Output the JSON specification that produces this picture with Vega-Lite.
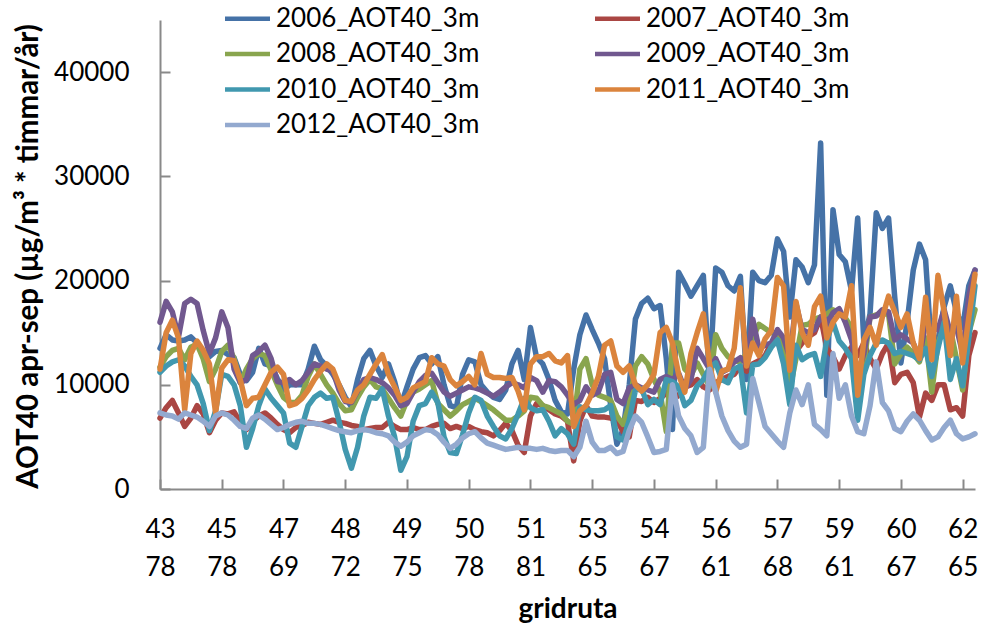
{
"$schema":"https://vega.github.io/schema/vega-lite/v6.json",
"width":815,"height":469,"autosize":"none",
"padding":{"left":160,"top":20,"right":7,"bottom":136},
"background":"white",
"config":{"view":{"stroke":null},"font":"Lato"},
"data":{"values":[
{"i":0,"2006_AOT40_3m":13500,"2007_AOT40_3m":6800,"2008_AOT40_3m":11700,"2009_AOT40_3m":16000,"2010_AOT40_3m":11200,"2011_AOT40_3m":11500,"2012_AOT40_3m":7300},
{"i":2,"2006_AOT40_3m":14800,"2007_AOT40_3m":7800,"2008_AOT40_3m":12700,"2009_AOT40_3m":18000,"2010_AOT40_3m":11800,"2011_AOT40_3m":15000,"2012_AOT40_3m":7100},
{"i":4,"2006_AOT40_3m":14300,"2007_AOT40_3m":8500,"2008_AOT40_3m":13300,"2009_AOT40_3m":17000,"2010_AOT40_3m":12200,"2011_AOT40_3m":16200,"2012_AOT40_3m":7000},
{"i":6,"2006_AOT40_3m":14200,"2007_AOT40_3m":7300,"2008_AOT40_3m":13500,"2009_AOT40_3m":14600,"2010_AOT40_3m":12400,"2011_AOT40_3m":14500,"2012_AOT40_3m":6700},
{"i":8,"2006_AOT40_3m":14300,"2007_AOT40_3m":6000,"2008_AOT40_3m":12400,"2009_AOT40_3m":17800,"2010_AOT40_3m":11800,"2011_AOT40_3m":7600,"2012_AOT40_3m":7300},
{"i":10,"2006_AOT40_3m":14600,"2007_AOT40_3m":6800,"2008_AOT40_3m":13600,"2009_AOT40_3m":18200,"2010_AOT40_3m":10800,"2011_AOT40_3m":13000,"2012_AOT40_3m":7100},
{"i":12,"2006_AOT40_3m":14000,"2007_AOT40_3m":8000,"2008_AOT40_3m":13900,"2009_AOT40_3m":17800,"2010_AOT40_3m":10000,"2011_AOT40_3m":14200,"2012_AOT40_3m":6900},
{"i":14,"2006_AOT40_3m":13000,"2007_AOT40_3m":7200,"2008_AOT40_3m":12500,"2009_AOT40_3m":15200,"2010_AOT40_3m":8200,"2011_AOT40_3m":13300,"2012_AOT40_3m":6500},
{"i":16,"2006_AOT40_3m":12700,"2007_AOT40_3m":5400,"2008_AOT40_3m":10300,"2009_AOT40_3m":13000,"2010_AOT40_3m":5600,"2011_AOT40_3m":12000,"2012_AOT40_3m":6000},
{"i":18,"2006_AOT40_3m":13200,"2007_AOT40_3m":6600,"2008_AOT40_3m":11500,"2009_AOT40_3m":14500,"2010_AOT40_3m":7500,"2011_AOT40_3m":7300,"2012_AOT40_3m":7000},
{"i":20,"2006_AOT40_3m":13300,"2007_AOT40_3m":7300,"2008_AOT40_3m":13200,"2009_AOT40_3m":17000,"2010_AOT40_3m":11000,"2011_AOT40_3m":11600,"2012_AOT40_3m":7300},
{"i":22,"2006_AOT40_3m":12900,"2007_AOT40_3m":7200,"2008_AOT40_3m":13800,"2009_AOT40_3m":15500,"2010_AOT40_3m":10800,"2011_AOT40_3m":12400,"2012_AOT40_3m":7100},
{"i":24,"2006_AOT40_3m":12600,"2007_AOT40_3m":7400,"2008_AOT40_3m":12500,"2009_AOT40_3m":11500,"2010_AOT40_3m":10000,"2011_AOT40_3m":12300,"2012_AOT40_3m":6600},
{"i":26,"2006_AOT40_3m":11000,"2007_AOT40_3m":6400,"2008_AOT40_3m":10200,"2009_AOT40_3m":10200,"2010_AOT40_3m":8000,"2011_AOT40_3m":10500,"2012_AOT40_3m":6000},
{"i":28,"2006_AOT40_3m":10400,"2007_AOT40_3m":5700,"2008_AOT40_3m":11500,"2009_AOT40_3m":10500,"2010_AOT40_3m":4000,"2011_AOT40_3m":8000,"2012_AOT40_3m":5800},
{"i":30,"2006_AOT40_3m":11200,"2007_AOT40_3m":6500,"2008_AOT40_3m":12500,"2009_AOT40_3m":12800,"2010_AOT40_3m":5800,"2011_AOT40_3m":8700,"2012_AOT40_3m":6800},
{"i":32,"2006_AOT40_3m":13500,"2007_AOT40_3m":7000,"2008_AOT40_3m":13000,"2009_AOT40_3m":13200,"2010_AOT40_3m":8000,"2011_AOT40_3m":8800,"2012_AOT40_3m":7100},
{"i":34,"2006_AOT40_3m":12000,"2007_AOT40_3m":7300,"2008_AOT40_3m":12800,"2009_AOT40_3m":13800,"2010_AOT40_3m":9600,"2011_AOT40_3m":10000,"2012_AOT40_3m":6700},
{"i":36,"2006_AOT40_3m":11800,"2007_AOT40_3m":6800,"2008_AOT40_3m":11400,"2009_AOT40_3m":12500,"2010_AOT40_3m":8700,"2011_AOT40_3m":11200,"2012_AOT40_3m":6200},
{"i":38,"2006_AOT40_3m":10600,"2007_AOT40_3m":6200,"2008_AOT40_3m":10000,"2009_AOT40_3m":10300,"2010_AOT40_3m":8000,"2011_AOT40_3m":11700,"2012_AOT40_3m":5700},
{"i":40,"2006_AOT40_3m":9500,"2007_AOT40_3m":5700,"2008_AOT40_3m":8800,"2009_AOT40_3m":10200,"2010_AOT40_3m":7300,"2011_AOT40_3m":11000,"2012_AOT40_3m":5900},
{"i":42,"2006_AOT40_3m":10000,"2007_AOT40_3m":5400,"2008_AOT40_3m":8300,"2009_AOT40_3m":10500,"2010_AOT40_3m":4400,"2011_AOT40_3m":8000,"2012_AOT40_3m":6200},
{"i":44,"2006_AOT40_3m":10000,"2007_AOT40_3m":5900,"2008_AOT40_3m":8300,"2009_AOT40_3m":10000,"2010_AOT40_3m":4000,"2011_AOT40_3m":8200,"2012_AOT40_3m":6400},
{"i":46,"2006_AOT40_3m":10000,"2007_AOT40_3m":6100,"2008_AOT40_3m":9000,"2009_AOT40_3m":10400,"2010_AOT40_3m":6000,"2011_AOT40_3m":8700,"2012_AOT40_3m":6500},
{"i":48,"2006_AOT40_3m":11500,"2007_AOT40_3m":6400,"2008_AOT40_3m":10800,"2009_AOT40_3m":11200,"2010_AOT40_3m":8000,"2011_AOT40_3m":9500,"2012_AOT40_3m":6300},
{"i":50,"2006_AOT40_3m":13700,"2007_AOT40_3m":6300,"2008_AOT40_3m":12000,"2009_AOT40_3m":12000,"2010_AOT40_3m":8800,"2011_AOT40_3m":10500,"2012_AOT40_3m":6300},
{"i":52,"2006_AOT40_3m":12400,"2007_AOT40_3m":6200,"2008_AOT40_3m":11000,"2009_AOT40_3m":11800,"2010_AOT40_3m":9200,"2011_AOT40_3m":11300,"2012_AOT40_3m":6200},
{"i":54,"2006_AOT40_3m":11800,"2007_AOT40_3m":6400,"2008_AOT40_3m":10000,"2009_AOT40_3m":11500,"2010_AOT40_3m":8700,"2011_AOT40_3m":12000,"2012_AOT40_3m":6000},
{"i":56,"2006_AOT40_3m":11000,"2007_AOT40_3m":6600,"2008_AOT40_3m":9200,"2009_AOT40_3m":11300,"2010_AOT40_3m":8800,"2011_AOT40_3m":11500,"2012_AOT40_3m":5800},
{"i":58,"2006_AOT40_3m":10000,"2007_AOT40_3m":6400,"2008_AOT40_3m":8200,"2009_AOT40_3m":9500,"2010_AOT40_3m":6500,"2011_AOT40_3m":10000,"2012_AOT40_3m":5600},
{"i":60,"2006_AOT40_3m":8800,"2007_AOT40_3m":6300,"2008_AOT40_3m":7500,"2009_AOT40_3m":8400,"2010_AOT40_3m":3800,"2011_AOT40_3m":8500,"2012_AOT40_3m":5500},
{"i":62,"2006_AOT40_3m":7900,"2007_AOT40_3m":6100,"2008_AOT40_3m":7600,"2009_AOT40_3m":8300,"2010_AOT40_3m":2000,"2011_AOT40_3m":8400,"2012_AOT40_3m":5400},
{"i":64,"2006_AOT40_3m":10500,"2007_AOT40_3m":6000,"2008_AOT40_3m":8800,"2009_AOT40_3m":9400,"2010_AOT40_3m":4000,"2011_AOT40_3m":9500,"2012_AOT40_3m":5600},
{"i":66,"2006_AOT40_3m":12500,"2007_AOT40_3m":5700,"2008_AOT40_3m":9800,"2009_AOT40_3m":10500,"2010_AOT40_3m":7000,"2011_AOT40_3m":10000,"2012_AOT40_3m":5700},
{"i":68,"2006_AOT40_3m":13300,"2007_AOT40_3m":5800,"2008_AOT40_3m":10500,"2009_AOT40_3m":10700,"2010_AOT40_3m":8800,"2011_AOT40_3m":11000,"2012_AOT40_3m":5600},
{"i":70,"2006_AOT40_3m":11800,"2007_AOT40_3m":5900,"2008_AOT40_3m":9800,"2009_AOT40_3m":10500,"2010_AOT40_3m":8700,"2011_AOT40_3m":12000,"2012_AOT40_3m":5400},
{"i":72,"2006_AOT40_3m":10700,"2007_AOT40_3m":5900,"2008_AOT40_3m":9600,"2009_AOT40_3m":10200,"2010_AOT40_3m":9600,"2011_AOT40_3m":12900,"2012_AOT40_3m":5300},
{"i":74,"2006_AOT40_3m":12000,"2007_AOT40_3m":6400,"2008_AOT40_3m":8700,"2009_AOT40_3m":9700,"2010_AOT40_3m":7000,"2011_AOT40_3m":11000,"2012_AOT40_3m":5100},
{"i":76,"2006_AOT40_3m":10300,"2007_AOT40_3m":6000,"2008_AOT40_3m":7800,"2009_AOT40_3m":9000,"2010_AOT40_3m":5000,"2011_AOT40_3m":9800,"2012_AOT40_3m":4500},
{"i":78,"2006_AOT40_3m":8000,"2007_AOT40_3m":5700,"2008_AOT40_3m":7000,"2009_AOT40_3m":8000,"2010_AOT40_3m":1800,"2011_AOT40_3m":8500,"2012_AOT40_3m":4100},
{"i":80,"2006_AOT40_3m":9800,"2007_AOT40_3m":5700,"2008_AOT40_3m":8500,"2009_AOT40_3m":8200,"2010_AOT40_3m":3100,"2011_AOT40_3m":8800,"2012_AOT40_3m":4500},
{"i":82,"2006_AOT40_3m":11500,"2007_AOT40_3m":5900,"2008_AOT40_3m":9300,"2009_AOT40_3m":9300,"2010_AOT40_3m":6500,"2011_AOT40_3m":9700,"2012_AOT40_3m":5100},
{"i":84,"2006_AOT40_3m":12600,"2007_AOT40_3m":5700,"2008_AOT40_3m":9600,"2009_AOT40_3m":10300,"2010_AOT40_3m":8000,"2011_AOT40_3m":10000,"2012_AOT40_3m":5400},
{"i":86,"2006_AOT40_3m":12800,"2007_AOT40_3m":5700,"2008_AOT40_3m":10000,"2009_AOT40_3m":10900,"2010_AOT40_3m":8200,"2011_AOT40_3m":10300,"2012_AOT40_3m":5700},
{"i":88,"2006_AOT40_3m":12000,"2007_AOT40_3m":6000,"2008_AOT40_3m":10400,"2009_AOT40_3m":11100,"2010_AOT40_3m":9300,"2011_AOT40_3m":12600,"2012_AOT40_3m":5600},
{"i":90,"2006_AOT40_3m":12700,"2007_AOT40_3m":6200,"2008_AOT40_3m":8200,"2009_AOT40_3m":10200,"2010_AOT40_3m":8300,"2011_AOT40_3m":12000,"2012_AOT40_3m":5200},
{"i":92,"2006_AOT40_3m":10000,"2007_AOT40_3m":6300,"2008_AOT40_3m":7600,"2009_AOT40_3m":9300,"2010_AOT40_3m":5000,"2011_AOT40_3m":11800,"2012_AOT40_3m":4500},
{"i":94,"2006_AOT40_3m":8000,"2007_AOT40_3m":5800,"2008_AOT40_3m":7000,"2009_AOT40_3m":8900,"2010_AOT40_3m":3500,"2011_AOT40_3m":10500,"2012_AOT40_3m":3900},
{"i":96,"2006_AOT40_3m":7800,"2007_AOT40_3m":6000,"2008_AOT40_3m":7500,"2009_AOT40_3m":9200,"2010_AOT40_3m":3400,"2011_AOT40_3m":9900,"2012_AOT40_3m":4300},
{"i":98,"2006_AOT40_3m":11000,"2007_AOT40_3m":5800,"2008_AOT40_3m":8100,"2009_AOT40_3m":9500,"2010_AOT40_3m":5200,"2011_AOT40_3m":10300,"2012_AOT40_3m":4900},
{"i":100,"2006_AOT40_3m":12400,"2007_AOT40_3m":6000,"2008_AOT40_3m":8400,"2009_AOT40_3m":9800,"2010_AOT40_3m":7300,"2011_AOT40_3m":10800,"2012_AOT40_3m":5300},
{"i":102,"2006_AOT40_3m":12200,"2007_AOT40_3m":5700,"2008_AOT40_3m":8700,"2009_AOT40_3m":9700,"2010_AOT40_3m":8800,"2011_AOT40_3m":10000,"2012_AOT40_3m":5500},
{"i":104,"2006_AOT40_3m":10000,"2007_AOT40_3m":5500,"2008_AOT40_3m":8400,"2009_AOT40_3m":9500,"2010_AOT40_3m":8500,"2011_AOT40_3m":13000,"2012_AOT40_3m":4900},
{"i":106,"2006_AOT40_3m":9300,"2007_AOT40_3m":5400,"2008_AOT40_3m":8000,"2009_AOT40_3m":9200,"2010_AOT40_3m":7000,"2011_AOT40_3m":11000,"2012_AOT40_3m":4400},
{"i":108,"2006_AOT40_3m":8800,"2007_AOT40_3m":5100,"2008_AOT40_3m":7600,"2009_AOT40_3m":8900,"2010_AOT40_3m":6000,"2011_AOT40_3m":10700,"2012_AOT40_3m":4200},
{"i":110,"2006_AOT40_3m":8600,"2007_AOT40_3m":5600,"2008_AOT40_3m":7100,"2009_AOT40_3m":9300,"2010_AOT40_3m":5100,"2011_AOT40_3m":10700,"2012_AOT40_3m":4000},
{"i":112,"2006_AOT40_3m":9500,"2007_AOT40_3m":6300,"2008_AOT40_3m":6600,"2009_AOT40_3m":9800,"2010_AOT40_3m":4800,"2011_AOT40_3m":10600,"2012_AOT40_3m":3800},
{"i":114,"2006_AOT40_3m":12000,"2007_AOT40_3m":5600,"2008_AOT40_3m":6600,"2009_AOT40_3m":10200,"2010_AOT40_3m":5800,"2011_AOT40_3m":10700,"2012_AOT40_3m":3900},
{"i":116,"2006_AOT40_3m":13300,"2007_AOT40_3m":4200,"2008_AOT40_3m":7000,"2009_AOT40_3m":10000,"2010_AOT40_3m":7200,"2011_AOT40_3m":9400,"2012_AOT40_3m":4000},
{"i":118,"2006_AOT40_3m":10500,"2007_AOT40_3m":3500,"2008_AOT40_3m":7500,"2009_AOT40_3m":9700,"2010_AOT40_3m":8700,"2011_AOT40_3m":7600,"2012_AOT40_3m":3900},
{"i":120,"2006_AOT40_3m":15500,"2007_AOT40_3m":7000,"2008_AOT40_3m":8800,"2009_AOT40_3m":10700,"2010_AOT40_3m":7800,"2011_AOT40_3m":12000,"2012_AOT40_3m":3900},
{"i":122,"2006_AOT40_3m":12600,"2007_AOT40_3m":8200,"2008_AOT40_3m":8700,"2009_AOT40_3m":10400,"2010_AOT40_3m":7500,"2011_AOT40_3m":12700,"2012_AOT40_3m":3800},
{"i":124,"2006_AOT40_3m":12000,"2007_AOT40_3m":8000,"2008_AOT40_3m":8000,"2009_AOT40_3m":9300,"2010_AOT40_3m":7600,"2011_AOT40_3m":12700,"2012_AOT40_3m":3900},
{"i":126,"2006_AOT40_3m":10500,"2007_AOT40_3m":7600,"2008_AOT40_3m":7800,"2009_AOT40_3m":10400,"2010_AOT40_3m":6500,"2011_AOT40_3m":13000,"2012_AOT40_3m":3700},
{"i":128,"2006_AOT40_3m":8500,"2007_AOT40_3m":7200,"2008_AOT40_3m":7500,"2009_AOT40_3m":10300,"2010_AOT40_3m":5100,"2011_AOT40_3m":12300,"2012_AOT40_3m":3600},
{"i":130,"2006_AOT40_3m":7400,"2007_AOT40_3m":7000,"2008_AOT40_3m":7200,"2009_AOT40_3m":9800,"2010_AOT40_3m":5800,"2011_AOT40_3m":12100,"2012_AOT40_3m":3700},
{"i":132,"2006_AOT40_3m":7200,"2007_AOT40_3m":6500,"2008_AOT40_3m":6500,"2009_AOT40_3m":9000,"2010_AOT40_3m":5300,"2011_AOT40_3m":12800,"2012_AOT40_3m":3700},
{"i":134,"2006_AOT40_3m":11500,"2007_AOT40_3m":2700,"2008_AOT40_3m":6200,"2009_AOT40_3m":8100,"2010_AOT40_3m":4300,"2011_AOT40_3m":6000,"2012_AOT40_3m":3100},
{"i":136,"2006_AOT40_3m":14800,"2007_AOT40_3m":6500,"2008_AOT40_3m":11500,"2009_AOT40_3m":8500,"2010_AOT40_3m":7900,"2011_AOT40_3m":7500,"2012_AOT40_3m":4000},
{"i":138,"2006_AOT40_3m":16700,"2007_AOT40_3m":8000,"2008_AOT40_3m":12500,"2009_AOT40_3m":9800,"2010_AOT40_3m":7600,"2011_AOT40_3m":8000,"2012_AOT40_3m":6500},
{"i":140,"2006_AOT40_3m":15300,"2007_AOT40_3m":7000,"2008_AOT40_3m":10000,"2009_AOT40_3m":9000,"2010_AOT40_3m":7500,"2011_AOT40_3m":9200,"2012_AOT40_3m":4500},
{"i":142,"2006_AOT40_3m":14000,"2007_AOT40_3m":6900,"2008_AOT40_3m":9000,"2009_AOT40_3m":9300,"2010_AOT40_3m":7500,"2011_AOT40_3m":10800,"2012_AOT40_3m":3700},
{"i":144,"2006_AOT40_3m":12500,"2007_AOT40_3m":6900,"2008_AOT40_3m":8800,"2009_AOT40_3m":11000,"2010_AOT40_3m":7600,"2011_AOT40_3m":13800,"2012_AOT40_3m":3700},
{"i":146,"2006_AOT40_3m":8000,"2007_AOT40_3m":6800,"2008_AOT40_3m":8500,"2009_AOT40_3m":11200,"2010_AOT40_3m":8000,"2011_AOT40_3m":14200,"2012_AOT40_3m":4000},
{"i":148,"2006_AOT40_3m":4300,"2007_AOT40_3m":6600,"2008_AOT40_3m":7000,"2009_AOT40_3m":8600,"2010_AOT40_3m":5000,"2011_AOT40_3m":11800,"2012_AOT40_3m":3400},
{"i":150,"2006_AOT40_3m":5700,"2007_AOT40_3m":5500,"2008_AOT40_3m":6200,"2009_AOT40_3m":8200,"2010_AOT40_3m":4700,"2011_AOT40_3m":11200,"2012_AOT40_3m":3600},
{"i":152,"2006_AOT40_3m":10000,"2007_AOT40_3m":5000,"2008_AOT40_3m":8000,"2009_AOT40_3m":9700,"2010_AOT40_3m":6600,"2011_AOT40_3m":11800,"2012_AOT40_3m":5600},
{"i":154,"2006_AOT40_3m":16300,"2007_AOT40_3m":8500,"2008_AOT40_3m":11800,"2009_AOT40_3m":10000,"2010_AOT40_3m":9500,"2011_AOT40_3m":10000,"2012_AOT40_3m":7000},
{"i":156,"2006_AOT40_3m":17800,"2007_AOT40_3m":8400,"2008_AOT40_3m":12700,"2009_AOT40_3m":9700,"2010_AOT40_3m":9600,"2011_AOT40_3m":9400,"2012_AOT40_3m":6400},
{"i":158,"2006_AOT40_3m":18300,"2007_AOT40_3m":8800,"2008_AOT40_3m":12000,"2009_AOT40_3m":9500,"2010_AOT40_3m":8100,"2011_AOT40_3m":10000,"2012_AOT40_3m":5000},
{"i":160,"2006_AOT40_3m":17300,"2007_AOT40_3m":8300,"2008_AOT40_3m":10500,"2009_AOT40_3m":9300,"2010_AOT40_3m":8600,"2011_AOT40_3m":11000,"2012_AOT40_3m":3500},
{"i":162,"2006_AOT40_3m":17600,"2007_AOT40_3m":8700,"2008_AOT40_3m":9300,"2009_AOT40_3m":10500,"2010_AOT40_3m":8100,"2011_AOT40_3m":15000,"2012_AOT40_3m":3600},
{"i":164,"2006_AOT40_3m":12500,"2007_AOT40_3m":9200,"2008_AOT40_3m":5500,"2009_AOT40_3m":10800,"2010_AOT40_3m":10500,"2011_AOT40_3m":15500,"2012_AOT40_3m":3800},
{"i":166,"2006_AOT40_3m":5700,"2007_AOT40_3m":8500,"2008_AOT40_3m":14000,"2009_AOT40_3m":10500,"2010_AOT40_3m":10300,"2011_AOT40_3m":14000,"2012_AOT40_3m":10000},
{"i":168,"2006_AOT40_3m":20800,"2007_AOT40_3m":9000,"2008_AOT40_3m":14000,"2009_AOT40_3m":11100,"2010_AOT40_3m":9800,"2011_AOT40_3m":11000,"2012_AOT40_3m":7000},
{"i":170,"2006_AOT40_3m":19700,"2007_AOT40_3m":9800,"2008_AOT40_3m":11500,"2009_AOT40_3m":9600,"2010_AOT40_3m":8000,"2011_AOT40_3m":9300,"2012_AOT40_3m":5800},
{"i":172,"2006_AOT40_3m":18500,"2007_AOT40_3m":10000,"2008_AOT40_3m":10900,"2009_AOT40_3m":10500,"2010_AOT40_3m":8500,"2011_AOT40_3m":13000,"2012_AOT40_3m":5100},
{"i":174,"2006_AOT40_3m":19500,"2007_AOT40_3m":10500,"2008_AOT40_3m":12100,"2009_AOT40_3m":13500,"2010_AOT40_3m":9900,"2011_AOT40_3m":15000,"2012_AOT40_3m":3500},
{"i":176,"2006_AOT40_3m":20500,"2007_AOT40_3m":9800,"2008_AOT40_3m":11000,"2009_AOT40_3m":12500,"2010_AOT40_3m":10500,"2011_AOT40_3m":16800,"2012_AOT40_3m":4000},
{"i":178,"2006_AOT40_3m":10500,"2007_AOT40_3m":9500,"2008_AOT40_3m":9800,"2009_AOT40_3m":11500,"2010_AOT40_3m":11600,"2011_AOT40_3m":12000,"2012_AOT40_3m":11500},
{"i":180,"2006_AOT40_3m":21200,"2007_AOT40_3m":10200,"2008_AOT40_3m":14800,"2009_AOT40_3m":12500,"2010_AOT40_3m":12100,"2011_AOT40_3m":9300,"2012_AOT40_3m":9300},
{"i":182,"2006_AOT40_3m":20800,"2007_AOT40_3m":10500,"2008_AOT40_3m":13500,"2009_AOT40_3m":11200,"2010_AOT40_3m":10500,"2011_AOT40_3m":11300,"2012_AOT40_3m":7000},
{"i":184,"2006_AOT40_3m":19500,"2007_AOT40_3m":10800,"2008_AOT40_3m":12700,"2009_AOT40_3m":11500,"2010_AOT40_3m":10200,"2011_AOT40_3m":11500,"2012_AOT40_3m":5600},
{"i":186,"2006_AOT40_3m":19000,"2007_AOT40_3m":11000,"2008_AOT40_3m":12300,"2009_AOT40_3m":12200,"2010_AOT40_3m":11500,"2011_AOT40_3m":13500,"2012_AOT40_3m":4600},
{"i":188,"2006_AOT40_3m":20400,"2007_AOT40_3m":11800,"2008_AOT40_3m":12200,"2009_AOT40_3m":12600,"2010_AOT40_3m":11800,"2011_AOT40_3m":19300,"2012_AOT40_3m":4000},
{"i":190,"2006_AOT40_3m":10500,"2007_AOT40_3m":11300,"2008_AOT40_3m":13000,"2009_AOT40_3m":12000,"2010_AOT40_3m":7300,"2011_AOT40_3m":11800,"2012_AOT40_3m":4300},
{"i":192,"2006_AOT40_3m":20800,"2007_AOT40_3m":12000,"2008_AOT40_3m":14500,"2009_AOT40_3m":16300,"2010_AOT40_3m":11900,"2011_AOT40_3m":14000,"2012_AOT40_3m":10600},
{"i":194,"2006_AOT40_3m":20000,"2007_AOT40_3m":12300,"2008_AOT40_3m":15800,"2009_AOT40_3m":13500,"2010_AOT40_3m":12000,"2011_AOT40_3m":12800,"2012_AOT40_3m":8300},
{"i":196,"2006_AOT40_3m":19800,"2007_AOT40_3m":12800,"2008_AOT40_3m":15400,"2009_AOT40_3m":13800,"2010_AOT40_3m":12600,"2011_AOT40_3m":14400,"2012_AOT40_3m":6000},
{"i":198,"2006_AOT40_3m":20500,"2007_AOT40_3m":14000,"2008_AOT40_3m":15000,"2009_AOT40_3m":14000,"2010_AOT40_3m":13600,"2011_AOT40_3m":15200,"2012_AOT40_3m":5300},
{"i":200,"2006_AOT40_3m":24000,"2007_AOT40_3m":14200,"2008_AOT40_3m":15000,"2009_AOT40_3m":15300,"2010_AOT40_3m":14300,"2011_AOT40_3m":20300,"2012_AOT40_3m":4600},
{"i":202,"2006_AOT40_3m":22800,"2007_AOT40_3m":12700,"2008_AOT40_3m":14000,"2009_AOT40_3m":14500,"2010_AOT40_3m":12000,"2011_AOT40_3m":19500,"2012_AOT40_3m":4000},
{"i":204,"2006_AOT40_3m":16500,"2007_AOT40_3m":11400,"2008_AOT40_3m":9500,"2009_AOT40_3m":12600,"2010_AOT40_3m":8100,"2011_AOT40_3m":11400,"2012_AOT40_3m":7300},
{"i":206,"2006_AOT40_3m":22000,"2007_AOT40_3m":13200,"2008_AOT40_3m":12500,"2009_AOT40_3m":17800,"2010_AOT40_3m":13800,"2011_AOT40_3m":18000,"2012_AOT40_3m":9500},
{"i":208,"2006_AOT40_3m":21300,"2007_AOT40_3m":14000,"2008_AOT40_3m":15700,"2009_AOT40_3m":15300,"2010_AOT40_3m":12400,"2011_AOT40_3m":15000,"2012_AOT40_3m":8100},
{"i":210,"2006_AOT40_3m":19800,"2007_AOT40_3m":14600,"2008_AOT40_3m":15800,"2009_AOT40_3m":15000,"2010_AOT40_3m":12800,"2011_AOT40_3m":13800,"2012_AOT40_3m":10000},
{"i":212,"2006_AOT40_3m":21500,"2007_AOT40_3m":15000,"2008_AOT40_3m":16300,"2009_AOT40_3m":15300,"2010_AOT40_3m":13000,"2011_AOT40_3m":17500,"2012_AOT40_3m":6200},
{"i":214,"2006_AOT40_3m":33200,"2007_AOT40_3m":16500,"2008_AOT40_3m":16500,"2009_AOT40_3m":16500,"2010_AOT40_3m":10800,"2011_AOT40_3m":18500,"2012_AOT40_3m":5700},
{"i":216,"2006_AOT40_3m":9000,"2007_AOT40_3m":13500,"2008_AOT40_3m":16800,"2009_AOT40_3m":15800,"2010_AOT40_3m":14300,"2011_AOT40_3m":14500,"2012_AOT40_3m":5100},
{"i":218,"2006_AOT40_3m":26800,"2007_AOT40_3m":12700,"2008_AOT40_3m":17200,"2009_AOT40_3m":16900,"2010_AOT40_3m":16000,"2011_AOT40_3m":16000,"2012_AOT40_3m":13000},
{"i":220,"2006_AOT40_3m":22500,"2007_AOT40_3m":11500,"2008_AOT40_3m":16800,"2009_AOT40_3m":17300,"2010_AOT40_3m":14200,"2011_AOT40_3m":16800,"2012_AOT40_3m":8700},
{"i":222,"2006_AOT40_3m":21800,"2007_AOT40_3m":12800,"2008_AOT40_3m":16400,"2009_AOT40_3m":16000,"2010_AOT40_3m":13500,"2011_AOT40_3m":16500,"2012_AOT40_3m":10000},
{"i":224,"2006_AOT40_3m":19000,"2007_AOT40_3m":13600,"2008_AOT40_3m":15500,"2009_AOT40_3m":14300,"2010_AOT40_3m":12500,"2011_AOT40_3m":19500,"2012_AOT40_3m":7000},
{"i":226,"2006_AOT40_3m":26000,"2007_AOT40_3m":12800,"2008_AOT40_3m":10000,"2009_AOT40_3m":11000,"2010_AOT40_3m":6600,"2011_AOT40_3m":9000,"2012_AOT40_3m":5500},
{"i":228,"2006_AOT40_3m":14000,"2007_AOT40_3m":14000,"2008_AOT40_3m":12000,"2009_AOT40_3m":13000,"2010_AOT40_3m":11000,"2011_AOT40_3m":14300,"2012_AOT40_3m":5300},
{"i":230,"2006_AOT40_3m":16800,"2007_AOT40_3m":12500,"2008_AOT40_3m":16500,"2009_AOT40_3m":16500,"2010_AOT40_3m":12800,"2011_AOT40_3m":15500,"2012_AOT40_3m":8000},
{"i":232,"2006_AOT40_3m":26500,"2007_AOT40_3m":11500,"2008_AOT40_3m":16700,"2009_AOT40_3m":16600,"2010_AOT40_3m":14000,"2011_AOT40_3m":13800,"2012_AOT40_3m":12200},
{"i":234,"2006_AOT40_3m":25000,"2007_AOT40_3m":13000,"2008_AOT40_3m":16800,"2009_AOT40_3m":17200,"2010_AOT40_3m":14300,"2011_AOT40_3m":16500,"2012_AOT40_3m":8300},
{"i":236,"2006_AOT40_3m":26000,"2007_AOT40_3m":14000,"2008_AOT40_3m":16800,"2009_AOT40_3m":17000,"2010_AOT40_3m":14000,"2011_AOT40_3m":18500,"2012_AOT40_3m":7500},
{"i":238,"2006_AOT40_3m":18400,"2007_AOT40_3m":10200,"2008_AOT40_3m":12000,"2009_AOT40_3m":14300,"2010_AOT40_3m":13000,"2011_AOT40_3m":17000,"2012_AOT40_3m":5800},
{"i":240,"2006_AOT40_3m":12100,"2007_AOT40_3m":11000,"2008_AOT40_3m":13000,"2009_AOT40_3m":14800,"2010_AOT40_3m":13200,"2011_AOT40_3m":15500,"2012_AOT40_3m":5500},
{"i":242,"2006_AOT40_3m":16000,"2007_AOT40_3m":11200,"2008_AOT40_3m":13600,"2009_AOT40_3m":14400,"2010_AOT40_3m":13000,"2011_AOT40_3m":16800,"2012_AOT40_3m":6500},
{"i":244,"2006_AOT40_3m":21000,"2007_AOT40_3m":10200,"2008_AOT40_3m":13000,"2009_AOT40_3m":14000,"2010_AOT40_3m":12800,"2011_AOT40_3m":14000,"2012_AOT40_3m":7200},
{"i":246,"2006_AOT40_3m":23500,"2007_AOT40_3m":6900,"2008_AOT40_3m":12200,"2009_AOT40_3m":12500,"2010_AOT40_3m":12400,"2011_AOT40_3m":12500,"2012_AOT40_3m":6600},
{"i":248,"2006_AOT40_3m":22000,"2007_AOT40_3m":9200,"2008_AOT40_3m":14500,"2009_AOT40_3m":16000,"2010_AOT40_3m":13500,"2011_AOT40_3m":18400,"2012_AOT40_3m":5600},
{"i":250,"2006_AOT40_3m":13000,"2007_AOT40_3m":8500,"2008_AOT40_3m":9300,"2009_AOT40_3m":15500,"2010_AOT40_3m":10800,"2011_AOT40_3m":12400,"2012_AOT40_3m":4700},
{"i":252,"2006_AOT40_3m":14300,"2007_AOT40_3m":10000,"2008_AOT40_3m":14000,"2009_AOT40_3m":15300,"2010_AOT40_3m":13500,"2011_AOT40_3m":20500,"2012_AOT40_3m":5000},
{"i":254,"2006_AOT40_3m":17500,"2007_AOT40_3m":10000,"2008_AOT40_3m":15500,"2009_AOT40_3m":17200,"2010_AOT40_3m":16000,"2011_AOT40_3m":17000,"2012_AOT40_3m":5900},
{"i":256,"2006_AOT40_3m":19500,"2007_AOT40_3m":7600,"2008_AOT40_3m":15400,"2009_AOT40_3m":15000,"2010_AOT40_3m":10500,"2011_AOT40_3m":12800,"2012_AOT40_3m":6600},
{"i":258,"2006_AOT40_3m":17000,"2007_AOT40_3m":7800,"2008_AOT40_3m":12500,"2009_AOT40_3m":15500,"2010_AOT40_3m":12500,"2011_AOT40_3m":18500,"2012_AOT40_3m":5300},
{"i":260,"2006_AOT40_3m":15500,"2007_AOT40_3m":7000,"2008_AOT40_3m":9500,"2009_AOT40_3m":13000,"2010_AOT40_3m":9900,"2011_AOT40_3m":12100,"2012_AOT40_3m":4800},
{"i":262,"2006_AOT40_3m":19500,"2007_AOT40_3m":12800,"2008_AOT40_3m":15000,"2009_AOT40_3m":18500,"2010_AOT40_3m":14500,"2011_AOT40_3m":16500,"2012_AOT40_3m":5000},
{"i":264,"2006_AOT40_3m":21000,"2007_AOT40_3m":15000,"2008_AOT40_3m":17200,"2009_AOT40_3m":21000,"2010_AOT40_3m":19500,"2011_AOT40_3m":20600,"2012_AOT40_3m":5300}
]},
"transform":[{"fold":["2006_AOT40_3m","2007_AOT40_3m","2008_AOT40_3m","2009_AOT40_3m","2010_AOT40_3m","2011_AOT40_3m","2012_AOT40_3m"],"as":["serie","aot40"]}],
"mark":{"type":"line","strokeWidth":5.5,"strokeJoin":"round","strokeCap":"round"},
"encoding":{
"x":{"field":"i","type":"quantitative","scale":{"domain":[0,264],"nice":false,"zero":false},
"axis":{"values":[0,20,40,60,80,100,120,140,160,180,200,220,240,260],
"labelExpr":"[['43','78'],['45','78'],['47','69'],['48','72'],['49','75'],['50','78'],['51','81'],['53','65'],['54','67'],['56','61'],['57','68'],['59','61'],['60','67'],['62','65']][round(datum.value/20)]",
"grid":false,"domainColor":"#898989","domainWidth":2,"tickColor":"#898989","tickWidth":2,"tickSize":-10,
"labelFont":"Lato","labelFontSize":26,"labelColor":"#000000","labelPadding":37,"labelLineHeight":38,"labelBaseline":"top","labelAlign":"center","labelFlush":false,"labelOverlap":false,
"title":"gridruta","titleFont":"Lato","titleFontSize":28,"titleFontWeight":"bold","titleColor":"#000000","titleX":407.5,"titleY":128,"titleAlign":"center","titleBaseline":"alphabetic"}},
"y":{"field":"aot40","type":"quantitative","scale":{"domain":[0,45000],"nice":false},
"axis":{"values":[0,10000,20000,30000,40000],"format":"d","grid":false,"domainColor":"#898989","domainWidth":2,"tickColor":"#898989","tickWidth":2,"tickSize":-10,
"labelFont":"Lato","labelFontSize":26,"labelColor":"#000000","labelPadding":41,"labelFlush":false,"labelOverlap":false,
"title":"AOT40 apr-sep (µg/m³ * timmar/år)","titleFont":"Lato","titleFontSize":29.5,"titleFontWeight":"bold","titleColor":"#000000","titleX":-132,"titleY":236,"titleAngle":270,"titleAlign":"center","titleBaseline":"middle"}},
"color":{"field":"serie","type":"nominal",
"scale":{"domain":["2006_AOT40_3m","2007_AOT40_3m","2008_AOT40_3m","2009_AOT40_3m","2010_AOT40_3m","2011_AOT40_3m","2012_AOT40_3m"],"range":["#4572A7","#AA4643","#89A54E","#71588F","#4198AF","#DB843D","#93A9CF"]},
"legend":{"orient":"none","direction":"horizontal","legendX":70,"legendY":-19,"columns":2,"title":null,"symbolType":"M-1.5,0H1.5","symbolSize":900,"symbolStrokeWidth":4.5,"symbolFillColor":"transparent","labelFont":"Lato","labelFontSize":26,"labelColor":"#000000","labelLimit":0,"labelOffset":11,"columnPadding":106,"rowPadding":4.5,"padding":0,"offset":0}}
}
}
